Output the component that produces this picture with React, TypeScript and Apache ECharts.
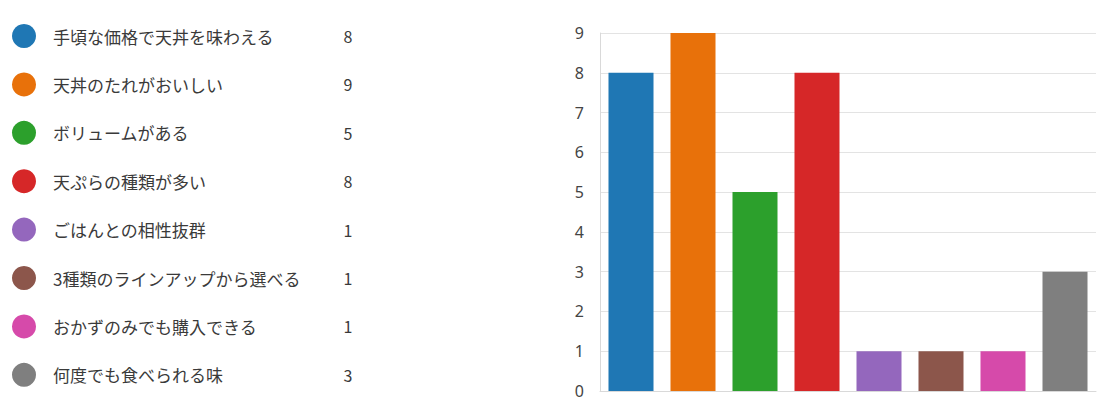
import React, { useEffect, useRef } from "react";
import * as echarts from "echarts";

const categories = [
  "手頃な価格で天丼を味わえる",
  "天丼のたれがおいしい",
  "ボリュームがある",
  "天ぷらの種類が多い",
  "ごはんとの相性抜群",
  "3種類のラインアップから選べる",
  "おかずのみでも購入できる",
  "何度でも食べられる味",
];
const values = [8, 9, 5, 8, 1, 1, 1, 3];
const colors = ["#1f77b4", "#e8710a", "#2ca02c", "#d62728", "#9467bd", "#8c564b", "#d64aaa", "#7f7f7f"];
const yTicks = [0, 1, 2, 3, 4, 5, 6, 7, 8, 9];

export default function App() {
  const ref = useRef<HTMLDivElement>(null);
  useEffect(() => {
    document.body.style.margin = "0";
    const chart = echarts.init(ref.current!, undefined, { renderer: "svg" });
    const font = "'Noto Sans CJK JP', 'Noto Sans', sans-serif";
    const legend: any[] = [];
    categories.forEach((c, i) => {
      const y = 36 + i * 48.4;
      legend.push({ type: "circle", shape: { cx: 24, cy: y, r: 12 }, style: { fill: colors[i] } });
      legend.push({
        type: "text", x: 53, y, style: { text: c, fill: "#3a3a3a", font: `17px ${font}`, textVerticalAlign: "middle" },
      });
      legend.push({
        type: "text", x: 348, y, style: { text: String(values[i]), fill: "#3a3a3a", font: `16px ${font}`, textAlign: "center", textVerticalAlign: "middle" },
      });
    });
    chart.setOption({
      animation: false,
      grid: { left: 600, right: 10, top: 33, bottom: 11 },
      xAxis: {
        type: "category",
        data: categories,
        axisLabel: { show: false },
        axisTick: { show: false },
        axisLine: { lineStyle: { color: "#d9d9d9" } },
      },
      yAxis: {
        type: "value",
        min: 0,
        max: yTicks[yTicks.length - 1],
        interval: 1,
        axisLine: { show: true, lineStyle: { color: "#d9d9d9" } },
        axisTick: { show: false },
        axisLabel: { color: "#444", fontSize: 16, fontFamily: "'Noto Sans', sans-serif", margin: 16 },
        splitLine: { lineStyle: { color: "#e3e3e3" } },
      },
      series: [
        {
          type: "bar",
          data: values.map((v, i) => ({ value: v, itemStyle: { color: colors[i] } })),
          barCategoryGap: "27.4%",
        },
      ],
      graphic: legend,
    });
    return () => chart.dispose();
  }, []);
  return <div ref={ref} style={{ width: 1106, height: 402 }} />;
}
